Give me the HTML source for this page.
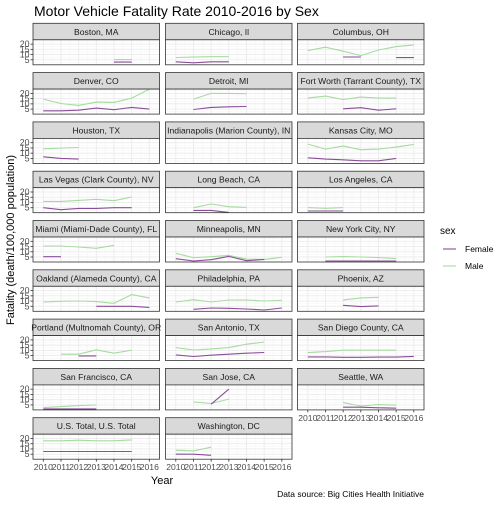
<!DOCTYPE html>
<html><head><meta charset="utf-8"><style>
body{margin:0;background:#fff;}
svg{font-family:"Liberation Sans",sans-serif;}
</style></head><body>
<svg id="chart" width="504" height="504" viewBox="0 0 504 504" xmlns="http://www.w3.org/2000/svg">
<rect width="504" height="504" fill="#fff"/>
<text x="34" y="16" font-size="14" fill="#000">Motor Vehicle Fatality Rate 2010-2016 by Sex</text>
<text transform="translate(14,240) rotate(-90)" text-anchor="middle" font-size="11" fill="#000">Fatality (death/100,000 population)</text>
<text x="162" y="484" text-anchor="middle" font-size="11" fill="#000">Year</text>
<text x="424" y="497" text-anchor="end" font-size="8.5" fill="#000">Data source: Big Cities Health Initiative</text>
<g>
<text x="440" y="234" font-size="10" fill="#000">sex</text>
<line x1="443" y1="249" x2="456" y2="249" stroke="#8a4e98" stroke-width="1.1"/>
<text x="465" y="252" font-size="8.5" fill="#000">Female</text>
<line x1="443" y1="266" x2="456" y2="266" stroke="#a6dba0" stroke-width="1.1"/>
<text x="465" y="269" font-size="8.5" fill="#000">Male</text>
</g>
<g id="panels"></g>
</svg>
<script>
const years = [2010, 2011, 2012, 2013, 2014, 2015, 2016];
const yTicks = [5, 10, 15, 20];
const cities = ["Boston, MA","Chicago, Il","Columbus, OH","Denver, CO","Detroit, MI","Fort Worth (Tarrant County), TX","Houston, TX","Indianapolis (Marion County), IN","Kansas City, MO","Las Vegas (Clark County), NV","Long Beach, CA","Los Angeles, CA","Miami (Miami-Dade County), FL","Minneapolis, MN","New York City, NY","Oakland (Alameda County), CA","Philadelphia, PA","Phoenix, AZ","Portland (Multnomah County), OR","San Antonio, TX","San Diego County, CA","San Francisco, CA","San Jose, CA","Seattle, WA","U.S. Total, U.S. Total","Washington, DC"];
const N = null;
const femaleVals = [
[N,N,N,N,2.8,2.8,N],
[3.1,2.1,3.1,3.1,N,N,N],
[N,N,7.7,7.7,N,7.1,7.1],
[3.4,3.4,4.0,6.0,4.4,6.6,5.0],
[N,4.6,6.6,7.2,7.5,N,N],
[N,N,5.3,6.3,4.0,5.3,N],
[6.5,5.0,4.3,N,N,N,N],
[N,N,N,N,N,N,N],
[5.6,4.3,3.7,2.7,2.7,5.0,N],
[5.0,3.1,4.3,4.3,5.0,5.0,N],
[N,2.4,2.4,0.5,N,N,N],
[1.9,1.9,1.9,N,N,N,N],
[5.3,5.3,N,N,N,N,N],
[3.4,1.2,2.4,5.6,1.5,2.7,N],
[N,1.2,1.2,1.2,1.2,1.2,N],
[N,N,N,5.0,5.0,5.0,4.0],
[N,2.1,3.4,3.1,2.4,1.5,3.4],
[N,N,6.0,4.7,5.4,N,N],
[N,N,4.7,4.7,N,N,N],
[5.7,4.1,5.4,6.3,7.3,8.0,N],
[3.8,3.8,3.4,3.4,3.6,3.6,4.2],
[1.2,1.2,1.2,1.2,N,N,N],
[N,N,5.7,20,N,N,N],
[N,N,2.8,2.8,2.2,1.9,N],
[7.6,7.6,7.6,7.6,7.6,7.6,N],
[5.0,5.0,4.0,N,N,N,N]
];
const maleVals = [
[N,N,N,N,5.2,5.2,N],
[7.2,7.6,8.0,8.0,N,N,N],
[13.8,17.0,13.2,9.0,14.4,17.6,19.2],
[14.6,10.4,8.5,11.7,11.4,15.5,24.0],
[N,14.6,20.0,20.0,19.7,N,N],
[15.5,17.4,14.2,16.5,15.5,15.5,N],
[14.2,14.8,15.4,N,N,N,N],
[N,N,N,N,N,N,N],
[18.7,13.9,16.8,13.3,13.9,15.8,18.4],
[11.0,11.0,12.0,13.0,11.7,15.2,N],
[N,5.0,8.5,6.0,5.3,N,N],
[5.1,4.4,5.1,N,N,N,N],
[15.5,15.5,14.6,13.3,16.2,N,N],
[8.5,4.3,5.3,6.5,3.0,2.7,4.7],
[N,5.0,5.4,5.0,4.4,3.5,N],
[9.1,9.8,10.1,9.5,7.9,16.2,13.0],
[9.1,11.3,9.1,11.0,11.0,10.1,10.7],
[N,N,11.1,13.0,13.6,N,N],
[N,6.3,6.3,10.5,7.3,10.2,N],
[12.6,10.4,11.4,12.6,15.9,18.0,N],
[7.9,8.8,10.2,10.2,10.2,10.2,N],
[2.4,3.4,4.3,5.0,N,N,N],
[N,7.9,6.3,10.5,N,N,N],
[N,N,7.2,4.0,5.3,4.7,N],
[17.8,17.8,18.4,17.8,17.8,18.7,N],
[8.8,8.2,11.7,N,N,N,N]
];
const NS = "http://www.w3.org/2000/svg";
const root = document.getElementById("panels");
const colX = [33, 165.5, 297.5];
const PW = 126.5, PH = 25, SH = 16.5;
function mk(tag, attrs, parent){const e=document.createElementNS(NS,tag);for(const k in attrs)e.setAttribute(k,attrs[k]);parent.appendChild(e);return e;}
function xScale(left, yr){return left + 10.3 + (yr - 2010) * 17.67;}
function yScale(top, v){return top + 4.3 + (20 - v) * 1.047;}
const lastInCol = [24, 25, 23];
cities.forEach((city, i) => {
  const col = i % 3, row = Math.floor(i / 3);
  const left = colX[col];
  const stripTop = 23.3 + row * 49.3;
  const top = stripTop + SH;
  const g = mk("g", {}, root);
  
  
  const s = mk("rect", {x:left, y:stripTop, width:PW, height:SH, fill:"#d9d9d9", stroke:"#333", "stroke-width":0.8}, g);
  
  
  const st = mk("text", {x:left+PW/2, y:stripTop+11.5, "text-anchor":"middle", "font-size":"8.6", fill:"#1a1a1a"}, g);
  
  
  st.textContent = city;
  const bg = mk("rect", {x:left, y:top, width:PW, height:PH, fill:"#fff"}, g);
  
  
  for (let v = 2.5; v <= 22.5; v += 5) {
    const yy = yScale(top, v);
    if (yy > top && yy < top + PH) {
      const l = mk("line", {x1:left, x2:left+PW, y1:yy, y2:yy, stroke:"#f4f4f4", "stroke-width":0.5}, g);
      
      
    }
  }
  for (let k = 0; k < years.length - 1; k++) {
    const xx = xScale(left, years[k] + 0.5);
    const l = mk("line", {x1:xx, x2:xx, y1:top, y2:top+PH, stroke:"#f4f4f4", "stroke-width":0.5}, g);
    
    
  }
  yTicks.forEach(v => {
    const yy = yScale(top, v);
    const l = mk("line", {x1:left, x2:left+PW, y1:yy, y2:yy, stroke:"#ebebeb", "stroke-width":0.9}, g);
    
    
  });
  years.forEach(yr => {
    const xx = xScale(left, yr);
    const l = mk("line", {x1:xx, x2:xx, y1:top, y2:top+PH, stroke:"#ebebeb", "stroke-width":0.9}, g);
    
    
  });
  [[maleVals[i], "#a6dba0", "male-line"], [femaleVals[i], "#8a4e98", "female-line"]].forEach(([vals, color, nm]) => {
    let seg = [];
    const segs = [];
    vals.forEach((v, k) => {
      if (v === null) { if (seg.length) segs.push(seg); seg = []; }
      else seg.push(xScale(left, years[k]).toFixed(1) + "," + yScale(top, v).toFixed(1));
    });
    if (seg.length) segs.push(seg);
    segs.forEach(sg => {
      if (sg.length < 2) return;
      const p = mk("polyline", {points: sg.join(" "), fill:"none", stroke:color, "stroke-width":1.1}, g);
      
      
    });
  });
  const br = mk("rect", {x:left, y:top, width:PW, height:PH, fill:"none", stroke:"#333", "stroke-width":0.8}, g);
  
  
  if (col === 0) {
    yTicks.forEach(v => {
      const yy = yScale(top, v);
      const t = mk("line", {x1:left-2.5, x2:left, y1:yy, y2:yy, stroke:"#333", "stroke-width":0.8}, g);
      
      
      const lb = mk("text", {x:left-3.5, y:yy+3, "text-anchor":"end", "font-size":"8.8", fill:"#4d4d4d"}, g);
      
      
      lb.textContent = v;
    });
  }
  if (i === lastInCol[col]) {
    years.forEach(yr => {
      const xx = xScale(left, yr);
      const t = mk("line", {x1:xx, x2:xx, y1:top+PH, y2:top+PH+2.5, stroke:"#333", "stroke-width":0.8}, g);
      
      
      const lb = mk("text", {x:xx, y:top+PH+11, "text-anchor":"middle", "font-size":"8.6", fill:"#4d4d4d"}, g);
      
      
      lb.textContent = yr;
    });
  }
});
</script>
</body></html>
